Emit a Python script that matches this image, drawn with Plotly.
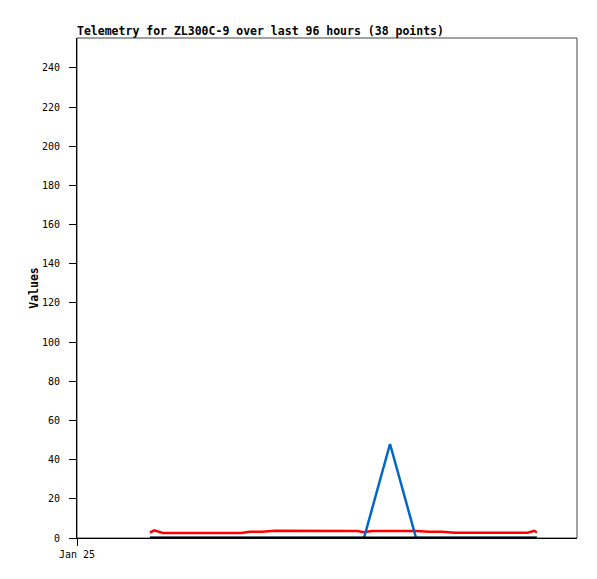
import datetime as dt

import plotly.graph_objects as go

START = dt.datetime(2024, 1, 25)

hours = [
    14.0, 14.8, 16.5, 19.0, 21.5, 24.0, 26.5, 29.0, 31.5, 33.2,
    35.5, 38.0, 40.5, 43.0, 45.5, 48.0, 50.5, 53.8, 55.1, 56.6,
    58.3, 60.1, 62.5, 63.8, 65.1, 67.6, 70.0, 72.6, 75.0, 77.5,
    78.7, 80.0, 82.5, 84.5, 85.3, 86.5, 87.8, 88.3,
]
red_vals = [
    2.7, 3.9, 2.6, 2.6, 2.6, 2.6, 2.6, 2.6, 2.6, 3.2,
    3.2, 3.7, 3.7, 3.7, 3.7, 3.7, 3.7, 3.6, 2.9, 3.6,
    3.6, 3.6, 3.6, 3.6, 3.6, 3.2, 3.2, 2.7, 2.7, 2.7,
    2.7, 2.7, 2.7, 2.7, 2.7, 2.7, 3.7, 2.8,
]
blue_vals = [
    0, 0, 0, 0, 0, 0, 0, 0, 0, 0,
    0, 0, 0, 0, 0, 0, 0, 0, 0, 14.4,
    31, 48, 25, 12.5, 0, 0, 0, 0, 0, 0,
    0, 0, 0, 0, 0, 0, 0, 0,
]
black_vals = [0] * len(hours)

y_ticks = [0, 20, 40, 60, 80, 100, 120, 140, 160, 180, 200, 220, 240]
x_tick_labels = ["Jan 25"]

times = [START + dt.timedelta(hours=h) for h in hours]

W, H = 597, 579
PAGE_OFF = 8  # default body margin of the html page

fig = go.Figure()
fig.add_trace(go.Scatter(x=times, y=red_vals, mode="lines",
                         line=dict(color="#ff0000", width=2.5)))
fig.add_trace(go.Scatter(x=times, y=blue_vals, mode="lines",
                         line=dict(color="#0066cc", width=2.5)))
fig.add_trace(go.Scatter(x=times, y=black_vals, mode="lines",
                         line=dict(color="#000000", width=3)))

# gray frame (top / right)
fig.add_shape(type="rect", xref="paper", yref="paper", x0=0, x1=1, y0=0, y1=1,
              line=dict(color="#444444", width=1), layer="below")

fig.update_layout(
    width=W, height=H,
    margin=dict(l=77 - PAGE_OFF, r=W - 577 + PAGE_OFF,
                t=38 - PAGE_OFF, b=H - 538 + PAGE_OFF),
    paper_bgcolor="white", plot_bgcolor="white",
    showlegend=False,
    font=dict(family="DejaVu Sans Mono", size=10, color="#000000"),
    title=dict(
        text="<b>Telemetry for ZL300C-9 over last 96 hours (38 points)</b>",
        x=(77 - PAGE_OFF) / W, xanchor="left", xref="container",
        y=1 - (31 - PAGE_OFF) / H, yanchor="middle", yref="container",
        font=dict(family="DejaVu Sans Mono", size=11.5, color="#000000"),
    ),
    xaxis=dict(
        range=[START, START + dt.timedelta(hours=96)],
        tickvals=[START], ticktext=x_tick_labels,
        ticks="outside", ticklen=7, tickcolor="#000000",
        showgrid=False, zeroline=False,
        showline=True, linecolor="#000000", linewidth=1,
        tickfont=dict(size=10),
    ),
    yaxis=dict(
        range=[0, 255.3],
        tickvals=y_ticks,
        ticks="outside", ticklen=7, tickcolor="#000000",
        ticklabelstandoff=7,
        showgrid=False, zeroline=False,
        showline=True, linecolor="#000000", linewidth=1,
        title=dict(text="<b>Values</b>", standoff=0,
                   font=dict(family="DejaVu Sans Mono", size=11.5)),
        tickfont=dict(size=10),
    ),
)

fig.write_html("out.html")
